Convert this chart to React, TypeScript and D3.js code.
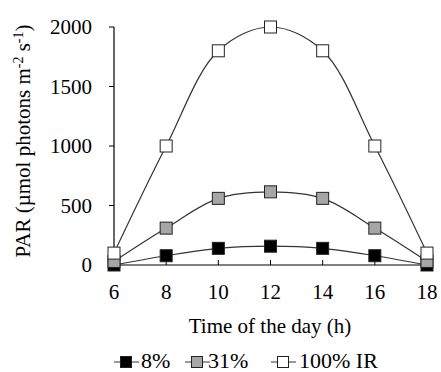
import React from "react";
import * as d3 from "d3";

const hours = [6, 8, 10, 12, 14, 16, 18];
const ir8 = [0, 78, 140, 158, 140, 78, 0];
const ir31 = [30, 310, 560, 615, 560, 310, 30];
const ir100 = [100, 1000, 1800, 2000, 1800, 1000, 100];
const yTicks = [0, 500, 1000, 1500, 2000];

const seriesList = [
  { name: "8%", values: ir8, fill: "#000000" },
  { name: "31%", values: ir31, fill: "#a6a6a6" },
  { name: "100% IR", values: ir100, fill: "#ffffff" },
];

const serif = { fontFamily: "serif" };

const App = () => {
  const width = 441;
  const height = 372;
  const x = d3.scaleLinear().domain([6, 18]).range([114, 427]);
  const y = d3.scaleLinear().domain([0, 2000]).range([265, 27]);
  const line = d3
    .line<number>()
    .x((d, i) => x(hours[i]))
    .y((d) => y(d))
    .curve(d3.curveCatmullRom.alpha(0.5));

  const ms = 12;
  const legend = [
    { lx: 126, tx: 141 },
    { lx: 197, tx: 208 },
    { lx: 283, tx: 299 },
  ];

  return (
    <svg
      width={width}
      height={height}
      fontFamily="serif"
      style={{ position: "absolute", left: 0, top: 0 }}
    >
      {/* axes */}
      <line x1={x(6)} x2={x(18)} y1={y(0)} y2={y(0)} stroke="#000" strokeWidth={1.2} />
      <line x1={x(6)} x2={x(6)} y1={y(0)} y2={y(2000)} stroke="#000" strokeWidth={1.2} />
      {yTicks.map((t) => (
        <line key={"yt" + t} x1={x(6) - 5} x2={x(6)} y1={y(t)} y2={y(t)} stroke="#000" />
      ))}
      {hours.map((h) => (
        <line key={"xt" + h} x1={x(h)} x2={x(h)} y1={y(0)} y2={y(0) - 5} stroke="#000" />
      ))}

      {/* series */}
      {seriesList.map((s) => (
        <path key={s.name} d={line(s.values) || ""} fill="none" stroke="#333" strokeWidth={1.2} />
      ))}
      {seriesList.map((s) =>
        s.values.map((v, i) => (
          <rect
            key={s.name + i}
            x={x(hours[i]) - ms / 2}
            y={y(v) - ms / 2}
            width={ms}
            height={ms}
            fill={s.fill}
            stroke="#222"
            strokeWidth={1}
          />
        ))
      )}

      {/* legend marks */}
      {seriesList.map((s, i) => (
        <line
          key={"ll" + s.name}
          x1={legend[i].lx - 12}
          x2={legend[i].lx + 13}
          y1={362}
          y2={362}
          stroke="#333"
        />
      ))}
      {seriesList.map((s, i) => (
        <rect
          key={"lr" + s.name}
          x={legend[i].lx - 5.5}
          y={356.5}
          width={11}
          height={11}
          fill={s.fill}
          stroke="#222"
        />
      ))}

      {/* texts */}
      {yTicks.map((t) => (
        <text key={"yl" + t} x={92} y={y(t) + 7} textAnchor="end" fontSize={21} style={serif}>
          {t}
        </text>
      ))}
      {hours.map((h) => (
        <text key={"xl" + h} x={x(h)} y={299} textAnchor="middle" fontSize={21} style={serif}>
          {h}
        </text>
      ))}
      <text x={270} y={333} textAnchor="middle" fontSize={21} style={serif}>
        Time of the day (h)
      </text>
      <text
        transform={`translate(30,141) rotate(-90)`}
        textAnchor="middle"
        fontSize={21}
        style={serif}
      >
        PAR (µmol photons m
        <tspan dy="-7" fontSize={14}>-2</tspan>
        <tspan dy="7"> s</tspan>
        <tspan dy="-7" fontSize={14}>-1</tspan>
        <tspan dy="7">)</tspan>
      </text>
      {seriesList.map((s, i) => (
        <text key={"lt" + s.name} x={legend[i].tx} y={368} fontSize={22} style={serif}>
          {s.name}
        </text>
      ))}
    </svg>
  );
};

export default App;
